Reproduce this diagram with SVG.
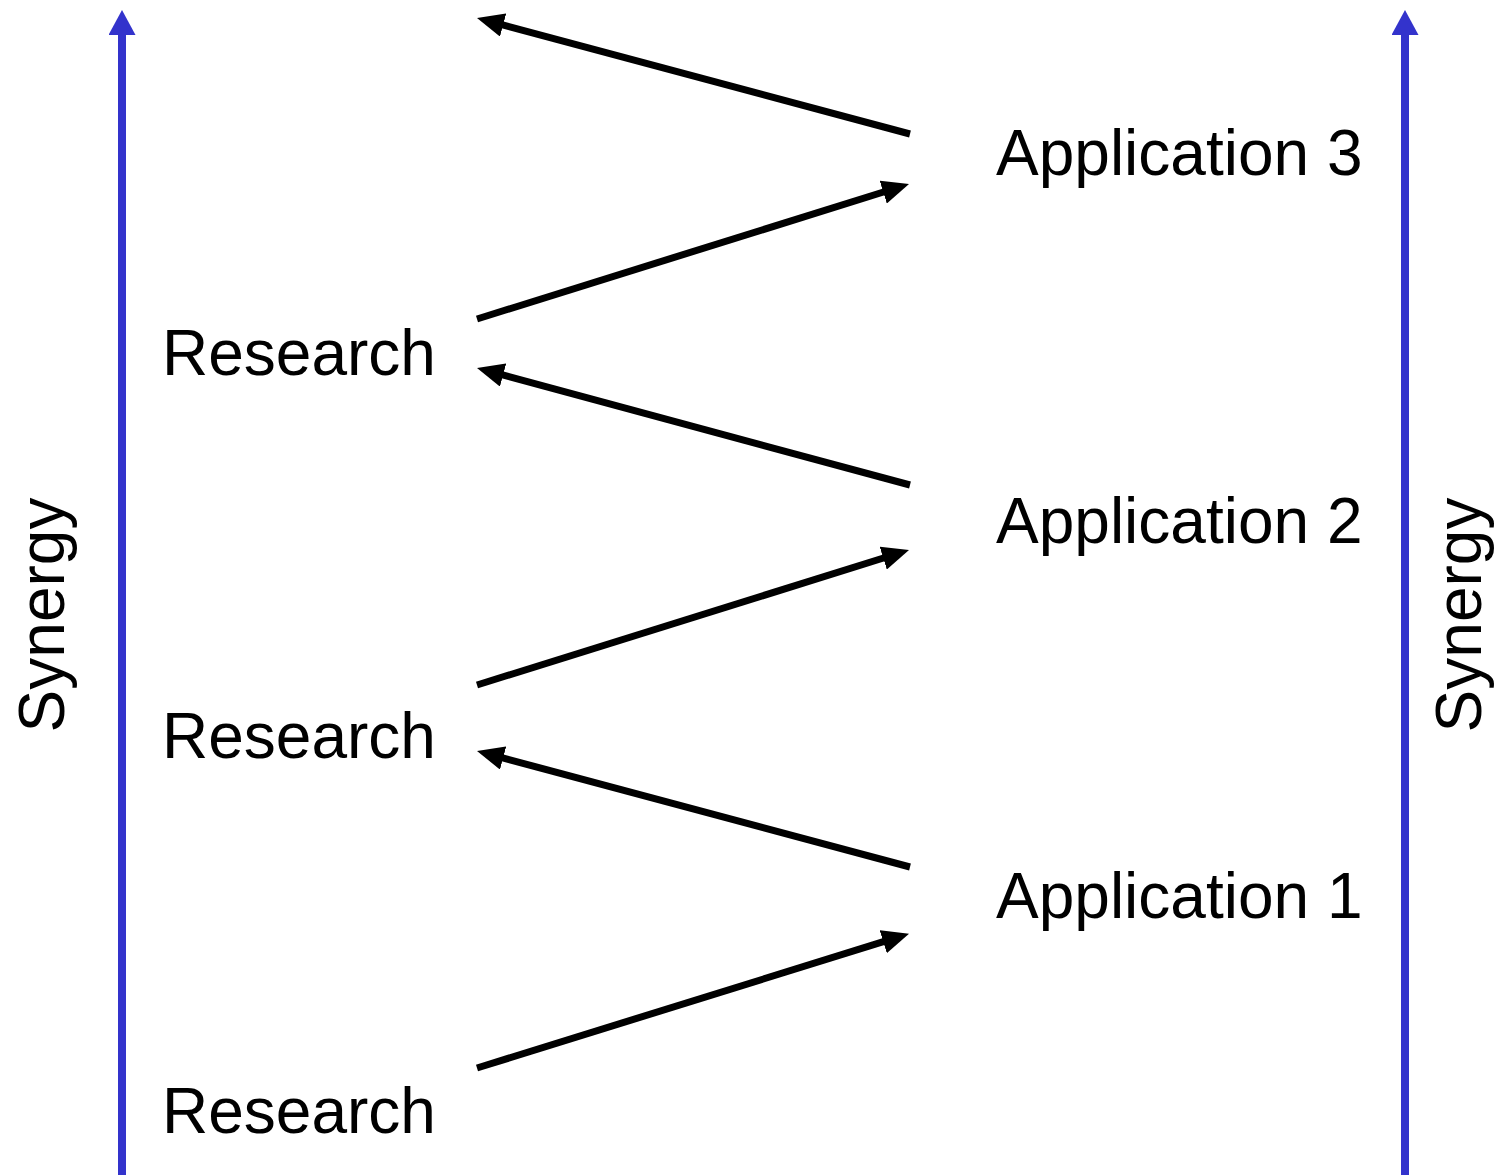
<svg xmlns="http://www.w3.org/2000/svg" width="1503" height="1175" viewBox="0 0 1503 1175">
  <style>
    .lbl { font-family: "Liberation Sans", Arial, sans-serif; font-size: 64px; fill: #000; }
    .flow { stroke: #000; stroke-width: 7; fill: none; marker-end: url(#headBlack); }
    .axis { stroke: #3333cc; stroke-width: 8; fill: none; marker-end: url(#headBlue); }
  </style>
  <defs>
    <marker id="headBlack" viewBox="0 0 27 24" refX="12" refY="12" markerWidth="27" markerHeight="24" markerUnits="userSpaceOnUse" orient="auto">
      <path d="M0,0 L27,12 L0,24 z" fill="#000"/>
    </marker>
    <marker id="headBlue" viewBox="0 0 25 27" refX="5" refY="13.5" markerWidth="25" markerHeight="27" markerUnits="userSpaceOnUse" orient="auto">
      <path d="M0,0 L25,13.5 L0,27 z" fill="#3333cc"/>
    </marker>
  </defs>

  <rect width="1503" height="1175" fill="#fff"/>

  <!-- synergy axes -->
  <g id="axis-left">
    <line class="axis" x1="122" y1="1175" x2="122" y2="30"/>
    <text class="lbl" transform="translate(64,615) rotate(-90)" text-anchor="middle">Synergy</text>
  </g>
  <g id="axis-right">
    <line class="axis" x1="1405" y1="1175" x2="1405" y2="30"/>
    <text class="lbl" transform="translate(1481,615) rotate(-90)" text-anchor="middle">Synergy</text>
  </g>

  <!-- research nodes -->
  <g id="research-1"><text class="lbl" x="162" y="1133">Research</text></g>
  <g id="research-2"><text class="lbl" x="162" y="758">Research</text></g>
  <g id="research-3"><text class="lbl" x="162" y="375">Research</text></g>

  <!-- application nodes -->
  <g id="application-1"><text class="lbl" x="996" y="918">Application 1</text></g>
  <g id="application-2"><text class="lbl" x="996" y="543">Application 2</text></g>
  <g id="application-3"><text class="lbl" x="996" y="175">Application 3</text></g>

  <!-- zig-zag connectors -->
  <g id="connectors">
    <line class="flow" x1="477" y1="1068" x2="894.7" y2="938.2"/>
    <line class="flow" x1="910" y1="867" x2="491.5" y2="754.9"/>
    <line class="flow" x1="477" y1="685" x2="894.7" y2="554.5"/>
    <line class="flow" x1="910" y1="485" x2="491.5" y2="371.9"/>
    <line class="flow" x1="477" y1="319" x2="894.7" y2="188.5"/>
    <line class="flow" x1="910" y1="134" x2="491.5" y2="21.9"/>
  </g>
</svg>
